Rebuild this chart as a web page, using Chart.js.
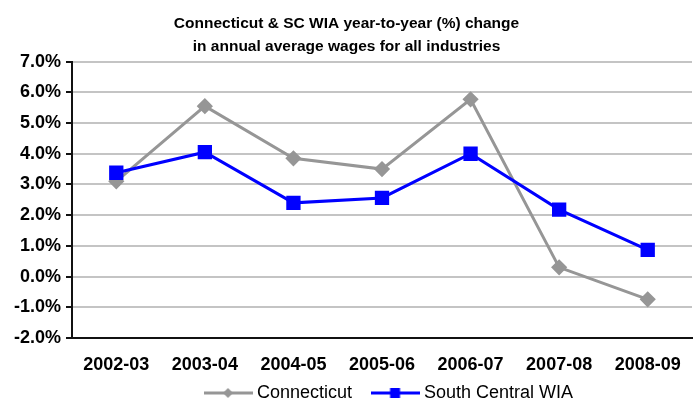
<!DOCTYPE html>
<html>
<head>
<meta charset="utf-8">
<script src="https://cdn.jsdelivr.net/npm/chart.js@4.4.0/dist/chart.umd.min.js"></script>
<style>
  html, body { margin: 0; padding: 0; background: #fff; overflow: hidden; }
  #wrap { width: 703px; height: 401px; }
</style>
</head>
<body>
<div id="wrap"><canvas id="chart" width="703" height="401"></canvas></div>
<script>
const periods = ['2002-03', '2003-04', '2004-05', '2005-06', '2006-07', '2007-08', '2008-09'];
const connecticut = [3.1, 5.55, 3.85, 3.5, 5.77, 0.3, -0.74];
const southCentral = [3.38, 4.05, 2.4, 2.56, 4.0, 2.18, 0.87];
const yTicks = [-2, -1, 0, 1, 2, 3, 4, 5, 6, 7];

const FONT = '"Liberation Sans", Arial, sans-serif';
const GRAY = '#969696';
const BLUE = '#0000ff';
const LEGEND_H = 20;

// legend swatch: a short line with the marker in the middle
const makeSwatch = (color, shape) => {
    const c = document.createElement('canvas');
    c.width = 49; c.height = 14;
    const g = c.getContext('2d');
    g.strokeStyle = color; g.lineWidth = 3;
    g.beginPath(); g.moveTo(0, 7); g.lineTo(49, 7); g.stroke();
    g.fillStyle = color;
    if (shape === 'diamond') {
        g.beginPath(); g.moveTo(24.5, 2); g.lineTo(29.5, 7); g.lineTo(24.5, 12); g.lineTo(19.5, 7); g.closePath(); g.fill();
    } else {
        g.fillRect(19.5, 2, 10, 10);
    }
    return c;
};

// fixed legend height, and nudge title / legend to where the original has them
const placeBoxes = {
    id: 'placeBoxes',
    beforeLayout(chart) {
        const lg = chart.legend;
        if (lg && !lg._fixed) {
            const fit = lg.fit.bind(lg);
            lg.fit = function () { fit(); this.height = LEGEND_H; };
            const draw = lg.draw.bind(lg);
            lg.draw = function () {
                const hb = lg.legendHitBoxes[0];
                const dx = 208 - hb.left;
                const dy = 393 - (hb.top + hb.height / 2);
                const ctx = chart.ctx;
                ctx.save();
                ctx.translate(dx, dy);
                // widen the legend's own clip box so the moved items stay visible
                const bottom = lg.bottom;
                lg.bottom = bottom + 80;
                draw();
                lg.bottom = bottom;
                ctx.restore();
            };
            lg._fixed = true;
        }
        const tt = chart.titleBlock;
        if (tt && !tt._fixed) {
            const draw = tt.draw.bind(tt);
            tt.draw = function () {
                chart.ctx.save();
                chart.ctx.translate(-4, 0);
                draw();
                chart.ctx.restore();
            };
            tt._fixed = true;
        }
    }
};

const ctx = document.getElementById('chart').getContext('2d');
new Chart(ctx, {
    type: 'line',
    data: {
        labels: periods,
        datasets: [
            {
                label: 'Connecticut',
                data: connecticut,
                borderColor: GRAY,
                backgroundColor: GRAY,
                borderWidth: 3,
                pointStyle: 'rectRot',
                pointRadius: 6,
                pointHoverRadius: 6,
                tension: 0,
                order: 2
            },
            {
                label: 'South Central WIA',
                data: southCentral,
                borderColor: BLUE,
                backgroundColor: BLUE,
                borderWidth: 3,
                pointStyle: 'rect',
                pointRadius: 8,
                pointHoverRadius: 8,
                tension: 0,
                order: 1
            }
        ]
    },
    plugins: [placeBoxes],
    options: {
        responsive: false,
        animation: false,
        layout: { padding: { left: 0, right: 2, top: 12, bottom: 0 } },
        plugins: {
            title: {
                display: true,
                text: ['Connecticut & SC WIA year-to-year (%) change', 'in annual average wages for all industries'],
                color: '#000',
                font: { family: FONT, size: 15.5, weight: 'bold', lineHeight: '23.3px' },
                padding: { top: 0, bottom: 3 }
            },
            legend: {
                position: 'bottom',
                labels: {
                    color: '#000',
                    font: { family: FONT, size: 18 },
                    usePointStyle: true,
                    pointStyleWidth: 40,
                    padding: 23,
                    generateLabels: () => [
                        { text: 'Connecticut', pointStyle: makeSwatch(GRAY, 'diamond'), fontColor: '#000', datasetIndex: 0, strokeStyle: 'transparent', lineWidth: 0 },
                        { text: 'South Central WIA', pointStyle: makeSwatch(BLUE, 'square'), fontColor: '#000', datasetIndex: 1, strokeStyle: 'transparent', lineWidth: 0 }
                    ]
                }
            },
            tooltip: { enabled: false }
        },
        scales: {
            x: {
                offset: true,
                grid: { display: false, drawTicks: false },
                border: { color: '#111', width: 2 },
                ticks: {
                    color: '#000',
                    font: { family: FONT, size: 18, weight: 'bold' },
                    padding: 16,
                    maxRotation: 0,
                    autoSkip: false
                },
                afterFit: axis => { axis.height = 401 - 338 - LEGEND_H; }
            },
            y: {
                min: -2,
                max: 7,
                afterBuildTicks: axis => { axis.ticks = yTicks.map(v => ({ value: v })); },
                afterFit: axis => { axis.width = 72; },
                grid: { color: '#c4c4c4', lineWidth: 2, tickColor: '#111', tickLength: 6 },
                border: { color: '#111', width: 2 },
                ticks: {
                    color: '#000',
                    font: { family: FONT, size: 18, weight: 'bold' },
                    padding: 5,
                    callback: v => v.toFixed(1) + '%'
                }
            }
        }
    }
});
</script>
</body>
</html>
